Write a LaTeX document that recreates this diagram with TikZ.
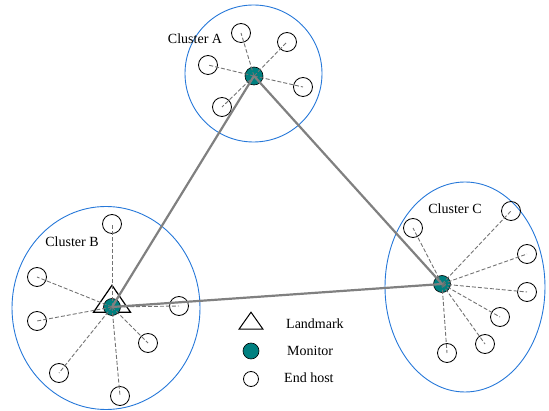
\documentclass[tikz,border=0pt]{standalone}
\usepackage{fontspec}
\setmainfont{Liberation Serif}
\usetikzlibrary{shapes.geometric}
\definecolor{monteal}{rgb}{0.0,0.5,0.5}
\definecolor{clublue}{rgb}{0.15,0.47,0.85}

\begin{document}
\begin{tikzpicture}[x=1pt, y=-1pt,
    cluster/.style={ellipse, draw=clublue, line width=0.9pt, inner sep=0pt},
    host/.style={circle, draw=black, line width=0.8pt, inner sep=0pt, minimum size=19pt},
    monitor/.style={circle, draw=black, fill=monteal, line width=0.6pt, inner sep=0pt, minimum size=18pt},
    landmark/.style={isosceles triangle, isosceles triangle stretches, shape border rotate=90, draw=black, line width=1.2pt, inner sep=0pt, minimum width=37pt, minimum height=27pt},
    probe/.style={color=black!55, line width=0.9pt, dash pattern=on 4pt off 2pt},
    link/.style={color=gray, line width=2.2pt},
    lbl/.style={font=\fontsize{14}{16}\selectfont}]
    \useasboundingbox (0,0) rectangle (549,411);
    %\draw[red] (0,0) rectangle (549,411);
    \node[cluster, minimum width=137pt, minimum height=137pt] (clA) at (253.5,73.5) {};
    \node[cluster, minimum width=188pt, minimum height=203pt] (clB) at (106,308) {};
    \node[cluster, minimum width=160pt, minimum height=210pt] (clC) at (465,287) {};
    \node[lbl] (labA) at (195,39) {Cluster A};
    \node[lbl] (labB) at (72,242) {Cluster B};
    \node[lbl] (labC) at (455,209) {Cluster C};

    \node[host] (a1) at (241,33) {};
    \node[host] (a2) at (287,42) {};
    \node[host] (a3) at (208,65) {};
    \node[host] (a4) at (303,87) {};
    \node[host] (a5) at (222,107) {};
    \node[host] (b1) at (112,224) {};
    \node[host] (b2) at (37,277) {};
    \node[host] (b3) at (37,321) {};
    \node[host] (b4) at (179,306) {};
    \node[host] (b5) at (148,343) {};
    \node[host] (b6) at (59,373) {};
    \node[host] (b7) at (120,396) {};
    \node[host] (c1) at (413,228) {};
    \node[host] (c2) at (511,211) {};
    \node[host] (c3) at (527,254) {};
    \node[host] (c4) at (527,292) {};
    \node[host] (c5) at (500,317) {};
    \node[host] (c6) at (485,344) {};
    \node[host] (c7) at (447,353) {};

    \node[landmark] (lmB) at (112,302.5) {};
    \node[monitor] (monA) at (254,76) {};
    \node[monitor, minimum size=17pt] (monB) at (112,307) {};
    \node[monitor, minimum size=17pt] (monC) at (442,284) {};

    \draw[probe] (monA.center) edge (a1.center) edge (a2.center) edge (a3.center) edge (a4.center) edge (a5.center);
    \draw[probe] (monB.center) edge (b1.center) edge (b2.center) edge (b3.center) edge (b4.center) edge (b5.center) edge (b6.center) edge (b7.center);
    \draw[probe] (monC.center) edge (c1.center) edge (c2.center) edge (c3.center) edge (c4.center) edge (c5.center) edge (c6.center) edge (c7.center);

    \draw[link] (monA.center) edge (monB.center);
    \draw[link] (monA.center) edge (monC.center);
    \draw[link] (monB.center) edge (monC.center);

    % legend
    \node[landmark, line width=1pt, minimum width=24pt, minimum height=17pt] (lgLand) at (251,323) {};
    \node[monitor, minimum size=16pt] (lgMon) at (251,351) {};
    \node[host, minimum size=15pt] (lgHost) at (251,379) {};
    \node[lbl, anchor=west, inner sep=0pt] (txtLand) at (286,324) {Landmark};
    \node[lbl, anchor=west, inner sep=0pt] (txtMon) at (287,351) {Monitor};
    \node[lbl, anchor=west, inner sep=0pt] (txtHost) at (284,378) {End host};
\end{tikzpicture}
\end{document}
